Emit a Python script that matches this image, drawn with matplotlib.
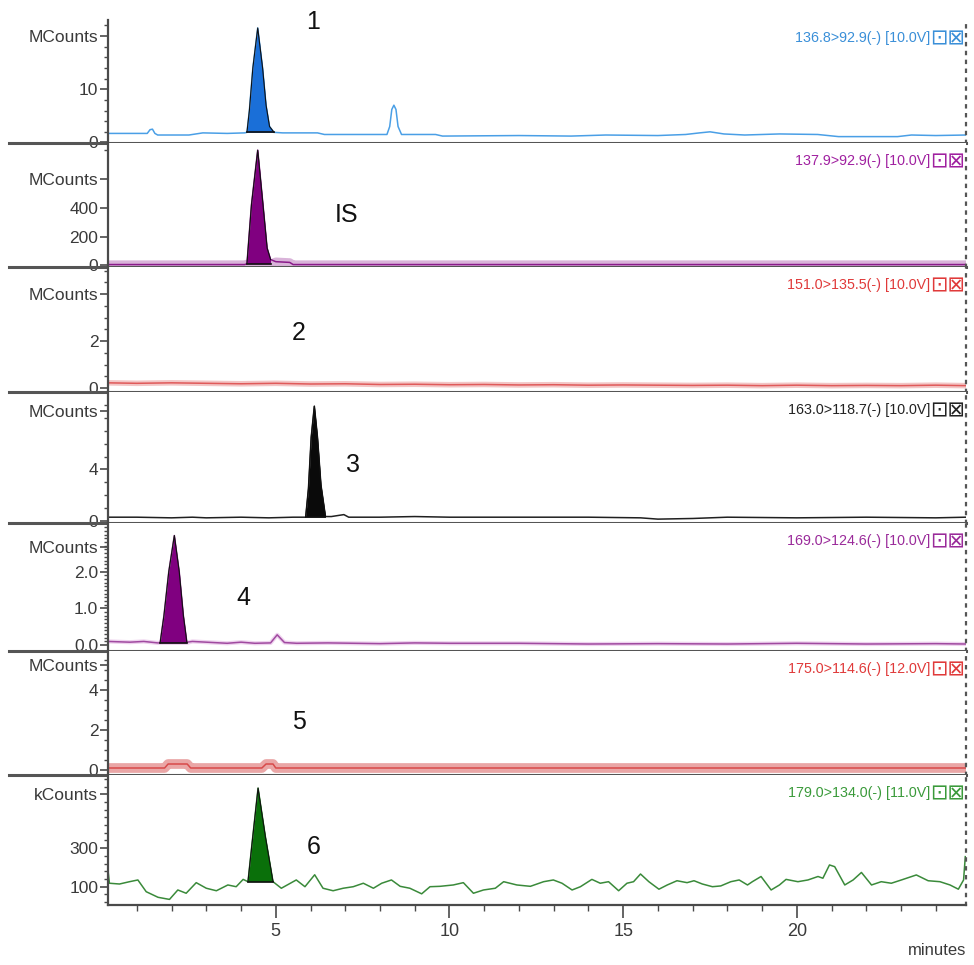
import matplotlib
matplotlib.use("Agg")
import matplotlib.pyplot as plt
from matplotlib.ticker import FixedLocator, MultipleLocator
import numpy as np

plt.rcParams['font.family'] = ['Liberation Sans', 'DejaVu Sans']

# retention time (min) / signal
t1 = [0.17, 1.30, 1.38, 1.45, 1.52, 1.60, 2.50, 2.90, 3.60, 4.10, 4.17, 4.24, 4.34, 4.48, 4.62,
      4.72, 4.82, 4.95, 5.20, 6.20, 6.40, 8.20, 8.28, 8.34, 8.40, 8.46, 8.52, 8.62, 9.60, 9.80,
      12.0, 13.5, 14.5, 16.0, 16.8, 17.2, 17.5, 17.9, 18.5, 19.5, 20.6, 21.2, 22.9, 23.3, 24.0, 24.87]
y1 = [1.7, 1.7, 2.4, 2.5, 1.7, 1.4, 1.4, 1.8, 1.7, 1.8, 1.9, 6.0, 14.0, 21.5, 14.0,
      7.0, 3.0, 1.9, 1.8, 1.8, 1.5, 1.5, 3.0, 6.2, 7.0, 6.2, 3.0, 1.5, 1.5, 1.2,
      1.3, 1.2, 1.4, 1.3, 1.5, 1.8, 2.0, 1.6, 1.4, 1.6, 1.5, 1.1, 1.1, 1.4, 1.3, 1.4]

t2 = [0.17, 4.10, 4.17, 4.30, 4.48, 4.62, 4.75, 4.85, 5.00, 5.40, 5.50, 24.87]
y2 = [5, 5, 10, 420, 800, 450, 120, 40, 25, 20, 5, 5]

t3 = [0.17, 1.0, 2.0, 3.0, 4.0, 5.0, 6.0, 7.0, 8.0, 9.0, 10.0, 11.0, 12.0, 13.0,
      14.0, 15.0, 16.0, 17.0, 18.0, 19.0, 20.0, 21.0, 22.0, 23.0, 24.0, 24.87]
y3 = [0.22, 0.2, 0.22, 0.2, 0.18, 0.2, 0.17, 0.18, 0.15, 0.16, 0.14, 0.15, 0.13, 0.14,
      0.12, 0.13, 0.12, 0.11, 0.12, 0.1, 0.12, 0.1, 0.11, 0.1, 0.12, 0.1]

t4 = [0.17, 1.0, 2.0, 2.6, 3.0, 4.0, 4.8, 5.5, 5.86, 5.94, 6.02, 6.11, 6.20, 6.30, 6.43, 6.6,
      6.96, 7.1, 8.0, 9.0, 10.0, 12.0, 14.0, 15.5, 16.0, 17.0, 18.0, 20.0, 22.0, 24.0, 24.87]
y4 = [0.3, 0.3, 0.25, 0.3, 0.25, 0.3, 0.25, 0.3, 0.3, 2.5, 6.5, 8.9, 6.5, 2.8, 0.35, 0.35,
      0.5, 0.3, 0.3, 0.35, 0.3, 0.3, 0.3, 0.25, 0.15, 0.2, 0.3, 0.25, 0.3, 0.25, 0.3]

t5 = [0.17, 0.8, 1.2, 1.6, 1.67, 1.78, 1.92, 2.08, 2.22, 2.34, 2.44, 2.6, 3.0, 3.6, 4.0, 4.4,
      4.85, 5.04, 5.25, 5.6, 6.5, 8.0, 9.0, 10.0, 12.0, 14.0, 16.0, 18.0, 20.0, 22.0, 24.0, 24.87]
y5 = [0.1, 0.08, 0.1, 0.06, 0.06, 0.8, 2.0, 2.98, 2.0, 0.8, 0.08, 0.1, 0.08, 0.05, 0.08, 0.05,
      0.06, 0.28, 0.07, 0.05, 0.06, 0.04, 0.06, 0.05, 0.05, 0.03, 0.04, 0.03, 0.05, 0.03, 0.04, 0.03]

t6 = [0.17, 1.8, 1.9, 2.45, 2.55, 4.6, 4.72, 4.92, 5.0, 24.87]
y6 = [0.1, 0.1, 0.3, 0.3, 0.1, 0.1, 0.3, 0.3, 0.1, 0.1]

t7 = [0.17, 0.21, 0.50, 0.79, 1.03, 1.27, 1.61, 1.94, 2.18, 2.42, 2.71, 3.00, 3.29, 3.62,
      3.86, 4.06, 4.20, 4.32, 4.49, 4.70, 4.92, 5.16, 5.59, 5.84, 6.12, 6.36, 6.65, 6.94, 7.23,
      7.52, 7.81, 8.05, 8.33, 8.58, 8.86, 9.20, 9.44, 9.73, 10.11, 10.40, 10.69, 10.98, 11.32,
      11.56, 11.94, 12.33, 12.71, 12.99, 13.24, 13.53, 13.77, 14.10, 14.34, 14.58, 14.87,
      15.11, 15.30, 15.50, 15.74, 16.03, 16.27, 16.55, 16.84, 17.04, 17.28, 17.57, 17.81,
      18.10, 18.34, 18.58, 18.72, 18.97, 19.26, 19.50, 19.69, 20.03, 20.32, 20.61, 20.75,
      20.94, 21.09, 21.38, 21.62, 21.86, 22.15, 22.43, 22.72, 23.01, 23.44, 23.78, 24.12,
      24.41, 24.65, 24.80, 24.85]
y7 = [185, 118, 114, 126, 135, 74, 45, 34, 83, 66, 121, 92, 79, 109,
      100, 138, 126, 330, 612, 360, 126, 92, 135, 100, 162, 92, 79, 92, 100,
      118, 92, 118, 135, 102, 92, 63, 100, 102, 109, 121, 66, 83, 92,
      126, 109, 102, 126, 135, 118, 83, 100, 138, 118, 126, 79,
      118, 126, 166, 126, 87, 109, 131, 121, 131, 114, 100, 104,
      126, 135, 109, 126, 153, 83, 109, 138, 126, 135, 153, 144,
      213, 204, 109, 135, 174, 109, 126, 118, 135, 161, 131, 126,
      109, 87, 135, 256]

trace_t = [t1, t2, t3, t4, t5, t6, t7]
trace_y = [y1, y2, y3, y4, y5, y6, y7]
peak_windows = [(4.17, 4.95), (4.17, 4.85), None, (5.86, 6.43), (1.67, 2.44), None, (4.20, 4.92)]
srm_labels = ["136.8>92.9(-) [10.0V]", "137.9>92.9(-) [10.0V]", "151.0>135.5(-) [10.0V]",
              "163.0>118.7(-) [10.0V]", "169.0>124.6(-) [10.0V]", "175.0>114.6(-) [12.0V]",
              "179.0>134.0(-) [11.0V]"]
peak_names = ["1", "IS", "2", "3", "4", "5", "6"]
units = ["MCounts"] * 6 + ["kCounts"]

# y axis setup per panel
ylims = [(-0.1, 23), (-12, 850), (-0.17, 5.15), (-0.15, 10.0), (-0.16, 3.32), (-0.25, 5.95), (5, 680)]
major = [[0, 10], [0, 200, 400], [0, 2], [0, 4], [0.0, 1.0, 2.0], [0, 2, 4], [100, 300]]
major_lbl = [["0", "10"], ["0", "200", "400"], ["0", "2"], ["0", "4"], ["0.0", "1.0", "2.0"],
             ["0", "2", "4"], ["100", "300"]]
unit_at = [20, 600, 4, 8.5, 2.68, 5.25, 580]
minor = [np.arange(0, 23, 2), np.arange(0, 850, 200), np.arange(0, 5.1, 0.5), np.arange(0, 10, 1),
         np.arange(0, 3.3, 0.1), np.arange(0, 5.9, 0.5), np.arange(20, 680, 40)]

line_c = ['#4a9fe6', '#8a1a8a', '#e05a5a', '#202020', '#a04aa0', '#d84a4a', '#3a8a3a']
fill_c = ['#1a6fd8', '#800080', None, '#0a0a0a', '#800080', None, '#0a700a']
band_c = [None, '#d9b3d9', '#f3c6c6', None, '#eed2ee', '#eaa6a6', None]
band_w = [0, 6, 4, 0, 3, 7, 0]
text_c = ['#3a8fd8', '#a020a0', '#e03a3a', '#222222', '#9a2a9a', '#e03a3a', '#3a9a3a']

# panel boundaries in pixels from top of the 974x965 figure
W, H = 974, 965
tops = [20, 143, 267, 392, 523, 651, 775]
bots = [143, 267, 392, 523, 651, 775, 905]
x0, x1 = 108, 966
name_pos = [(313, 22), (347, 215), (299, 333), (353, 465), (243, 598), (299, 722), (314, 847)]

fig = plt.figure(figsize=(W / 100, H / 100), dpi=100)
tick_c = '#3a3a3a'

for i in range(7):
    ax = fig.add_axes([x0 / W, 1 - bots[i] / H, (x1 - x0) / W, (bots[i] - tops[i]) / H])
    t = np.array(trace_t[i])
    y = np.array(trace_y[i], dtype=float)
    if peak_windows[i]:
        a, b = peak_windows[i]
        m = (t >= a) & (t <= b)
    else:
        m = np.zeros(len(t), dtype=bool)
    if band_c[i]:
        yb = y.copy()
        if m.any():
            yb[m] = y[m][0]
        ax.plot(t, yb, color=band_c[i], lw=band_w[i], solid_capstyle='butt', zorder=1)
    ax.plot(t, y, color=line_c[i], lw=1.1, zorder=2)
    if m.any():
        base = y[m][0]
        ax.fill_between(t[m], y[m], base, color=fill_c[i], lw=0, zorder=3)
        ax.plot(t[m], y[m], color='#101010', lw=0.8, zorder=4)
        ax.plot(t[m][[0, -1]], [base, base], color='#101010', lw=1.2, zorder=4)

    ax.set_xlim(0.17, 24.87)
    ax.set_ylim(*ylims[i])
    ax.spines['top'].set_visible(False)
    ax.spines['left'].set_color('#4a4a4a')
    ax.spines['left'].set_linewidth(1.6)
    ax.spines['right'].set_color('#555555')
    ax.spines['right'].set_linestyle((0, (1, 3)))
    ax.spines['right'].set_linewidth(1.6)

    ax.yaxis.set_major_locator(FixedLocator(major[i] + [unit_at[i]]))
    ax.set_yticklabels(major_lbl[i] + [units[i]])
    ax.yaxis.set_minor_locator(FixedLocator(minor[i]))
    ax.tick_params(axis='y', which='major', direction='out', length=6, width=1.2,
                   color='#4a4a4a', labelsize=12.5, labelcolor=tick_c, pad=1)
    ax.tick_params(axis='y', which='minor', direction='out', length=3, width=1.0, color='#4a4a4a')

    ty = 1 - 18 / (bots[i] - tops[i])
    ax.text(0.958, ty, srm_labels[i], transform=ax.transAxes,
            ha='right', va='center', fontsize=10.3, color=text_c[i])
    ax.text(0.999, ty, "\u22a1\u22a0", transform=ax.transAxes,
            ha='right', va='center', fontsize=15, color=text_c[i], family='DejaVu Sans')

    nx, ny = name_pos[i]
    fig.text(nx / W, 1 - ny / H, peak_names[i], ha='center', va='center', fontsize=18, color='#111111')

    if i < 6:
        ax.spines['bottom'].set_visible(False)
        ax.set_xticks([])
        ax.plot([-0.115, 1.0], [0, 0], transform=ax.transAxes, clip_on=False,
                color='#555555', lw=2.2, zorder=6)
    else:
        ax.spines['bottom'].set_color('#4a4a4a')
        ax.spines['bottom'].set_linewidth(1.6)
        ax.xaxis.set_major_locator(FixedLocator([5, 10, 15, 20]))
        ax.xaxis.set_minor_locator(MultipleLocator(1))
        ax.tick_params(axis='x', which='major', direction='out', length=9, width=1.2,
                       color='#4a4a4a', labelsize=13, labelcolor=tick_c, pad=4)
        ax.tick_params(axis='x', which='minor', direction='out', length=4, width=1.0, color='#4a4a4a')
        ax.set_xlabel("minutes", fontsize=12, color=tick_c, loc='right', labelpad=2)

fig.savefig("out.png", dpi=100)
